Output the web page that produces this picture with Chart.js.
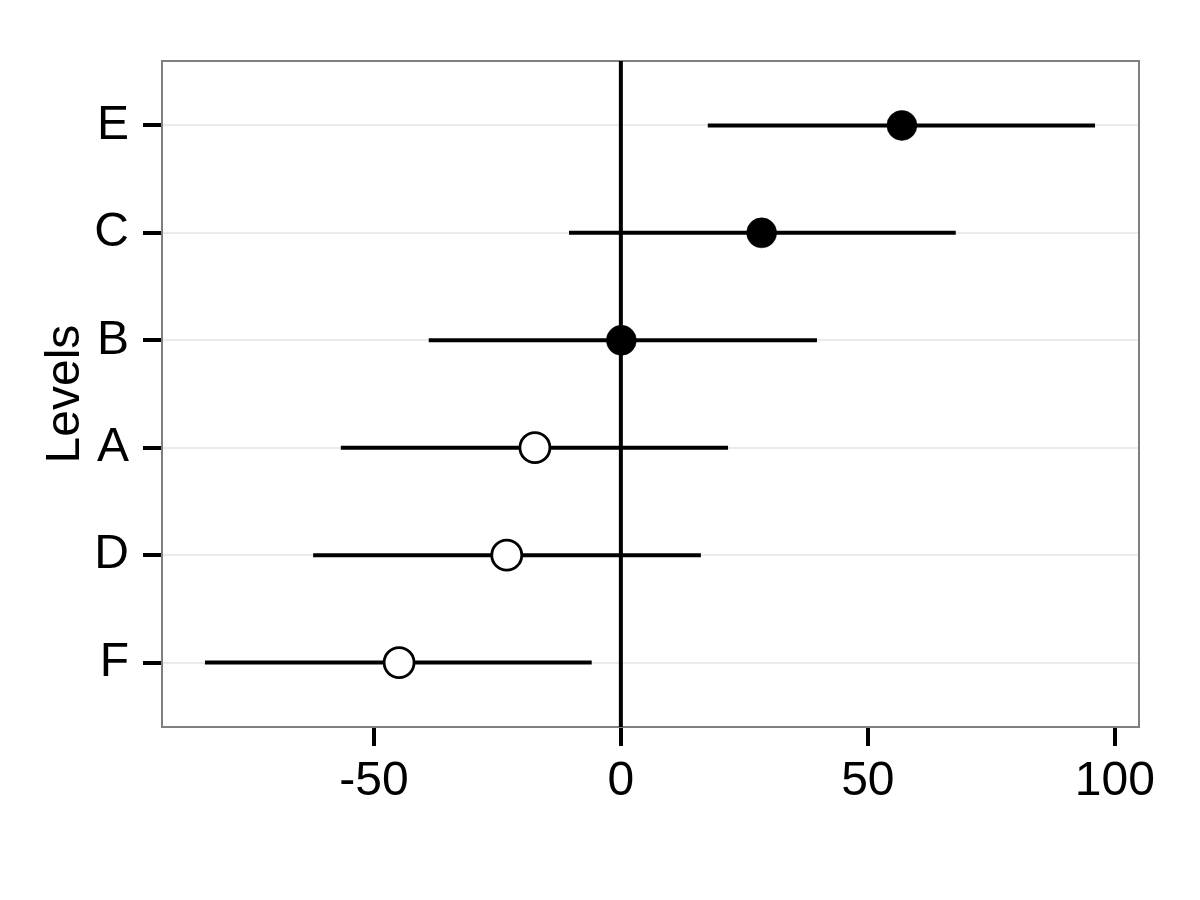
<!DOCTYPE html>
<html><head><meta charset="utf-8">
<script src="https://cdn.jsdelivr.net/npm/chart.js@4"></script>
<style>html,body{margin:0;padding:0;background:#fff}</style>
</head><body>
<canvas id="c" width="1200" height="900"></canvas>
<script>
// Levels from top to bottom
const levels = ['E', 'C', 'B', 'A', 'D', 'F'];
const estimates = [56.9, 28.5, 0.1, -17.4, -23.1, -44.9];
const lower = [17.6, -10.5, -38.9, -56.7, -62.3, -84.2];
const upper = [96.0, 67.8, 39.7, 21.7, 16.2, -5.9];
const filled = [true, true, true, false, false, false];
const referenceX = 0;
const xTicks = [-50, 0, 50, 100];
const xRange = [-92.9, 104.9];
const yRange = [0.4, 6.6];

const FONT = {family: '"Liberation Sans", Arial, sans-serif', size: 48};
const yPos = levels.map((l, i) => levels.length - i);

const datasets = [];
// vertical reference line at x = 0
datasets.push({
  type: 'scatter', showLine: true, order: 3,
  data: [{x: referenceX, y: yRange[0]}, {x: referenceX, y: yRange[1]}],
  borderColor: '#000', borderWidth: 4, pointRadius: 0, pointHoverRadius: 0
});
levels.forEach((l, i) => {
  datasets.push({
    type: 'scatter', showLine: true, order: 2,
    data: [{x: lower[i], y: yPos[i]}, {x: upper[i], y: yPos[i]}],
    borderColor: '#000', borderWidth: 4, borderCapStyle: 'butt',
    pointRadius: 0, pointHoverRadius: 0
  });
});
datasets.push({
  type: 'scatter', order: 0,
  data: levels.map((l, i) => ({x: estimates[i], y: yPos[i]})),
  pointRadius: 15, pointHoverRadius: 15,
  pointBackgroundColor: filled.map(f => f ? '#000' : '#fff'),
  pointBorderColor: '#000',
  pointBorderWidth: filled.map(f => f ? 0.5 : 2.8)
});

const borderPlugin = {
  id: 'panelBorder',
  beforeDatasetsDraw(chart) {
    const a = chart.chartArea, ctx = chart.ctx;
    ctx.save();
    ctx.strokeStyle = '#7f7f7f';
    ctx.lineWidth = 2;
    ctx.strokeRect(a.left, a.top, a.right - a.left, a.bottom - a.top);
    ctx.restore();
  }
};

new Chart(document.getElementById('c'), {
  type: 'scatter',
  data: {datasets},
  plugins: [borderPlugin],
  options: {
    responsive: false, animation: false, devicePixelRatio: 1,
    layout: {padding: {top: 61, right: 61, left: 0, bottom: 0}},
    plugins: {legend: {display: false}, tooltip: {enabled: false}},
    scales: {
      x: {
        type: 'linear', min: xRange[0], max: xRange[1],
        afterBuildTicks: s => { s.ticks = xTicks.map(v => ({value: v})); },
        afterFit: s => { s.height = 173; },
        border: {display: false},
        grid: {
          drawOnChartArea: false,
          color: '#000', lineWidth: 4, tickColor: '#000', tickWidth: 4, tickLength: 19
        },
        ticks: {color: '#000', font: FONT, padding: 7, maxRotation: 0}
      },
      y: {
        type: 'linear', min: yRange[0], max: yRange[1],
        afterBuildTicks: s => { s.ticks = yPos.map(v => ({value: v})); },
        afterFit: s => { s.width = 162; },
        border: {display: false},
        grid: {color: '#ebebeb', lineWidth: 2, tickColor: '#000', tickWidth: 4, tickLength: 19},
        ticks: {
          color: '#000', font: FONT, padding: 14,
          callback: v => { const i = yPos.indexOf(v); return i >= 0 ? levels[i] : ''; }
        },
        title: {display: true, text: 'Levels', color: '#000', font: FONT, padding: {top: 37, bottom: 0}}
      }
    }
  }
});
</script>
</body></html>
